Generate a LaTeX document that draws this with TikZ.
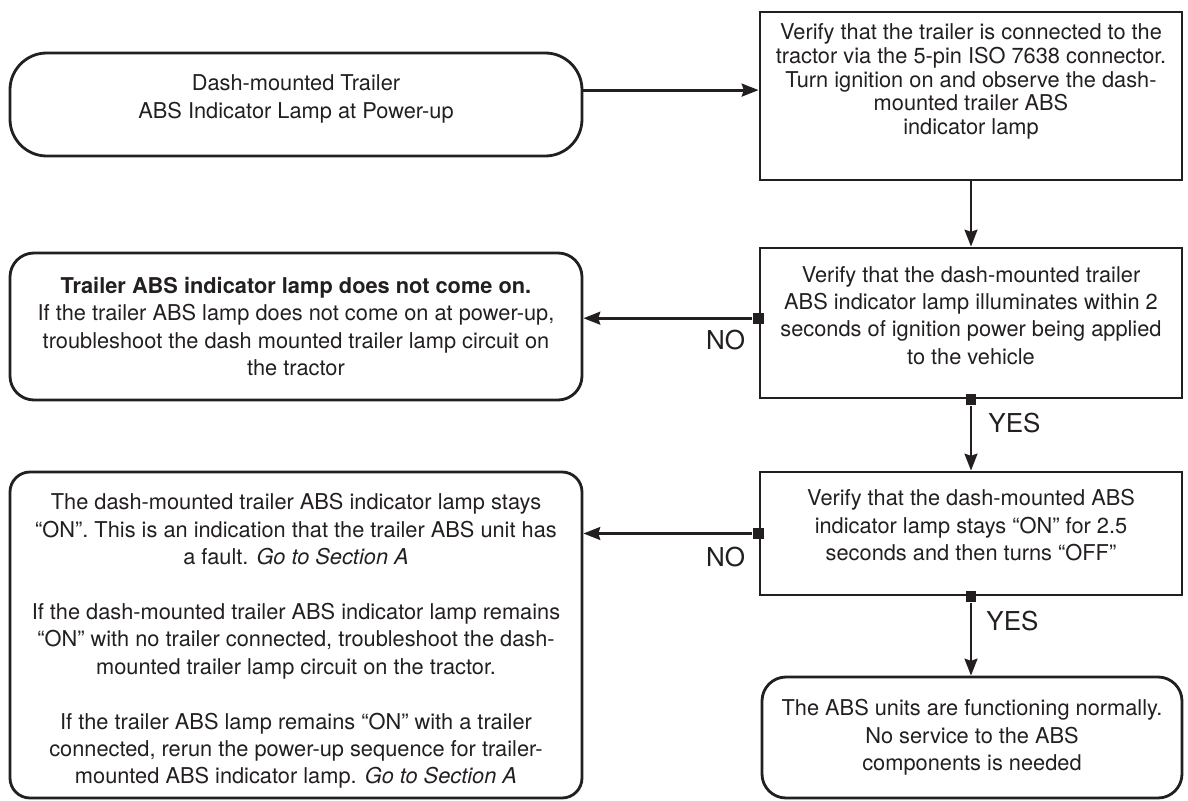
\documentclass[tikz,border=0pt]{standalone}
\usepackage{fontspec}
\setmainfont{TeX Gyre Heros}
\usetikzlibrary{arrows.meta}
\definecolor{ink}{HTML}{231F20}

\begin{document}
\begin{tikzpicture}[font=\fontsize{15.5}{19.5}\selectfont, >={Stealth[length=0.42cm, width=0.32cm, inset=0.05cm]},
          line width=2pt, color=ink,
          sbox/.style={draw, minimum width=10.55cm, inner sep=0pt},
          rbox/.style={draw, rounded corners=0.6cm, minimum width=14.3cm, inner sep=0pt},
          txt/.style={align=center, inner sep=0pt},
          junc/.style={fill=ink, minimum size=0.27cm, inner sep=0pt},
          yn/.style={font=\fontsize{18.5}{20}\selectfont, inner sep=0pt}]
        \useasboundingbox (0,0) rectangle (29.7,-20);
        % boxes, left column x = 0.25..14.55, right column x = 19.0..29.55
        \node[rbox, rounded corners=0.92cm, minimum height=2.575cm] (start) at (7.4,-2.6125) {};
        \node[sbox, minimum height=4.2cm] (conn) at (24.275,-2.4) {};
        \node[rbox, minimum height=3.675cm] (nolamp) at (7.4,-8.1625) {};
        \node[sbox, minimum height=3.75cm] (illum) at (24.275,-8.075) {};
        \node[sbox, minimum height=3.075cm] (stays) at (24.275,-13.3375) {};
        \node[rbox, rounded corners=0.5cm, minimum height=8.15cm] (stayson) at (7.4,-15.875) {};
        \node[rbox, minimum width=10.5cm, minimum height=3.025cm] (normal) at (24.3,-18.4375) {};
        % texts
        \node[txt] (startT) at ([yshift=0.14cm]start) {Dash-mounted Trailer\\ABS Indicator Lamp at Power-up};
        \node[txt, font=\fontsize{15.5}{16.8}\selectfont] (connT) at ([yshift=0.36cm]conn) {Verify that the trailer is connected to the\\tractor via the 5-pin ISO 7638 connector.\\Turn ignition on and observe the dash-\\mounted trailer ABS\\indicator lamp};
        \node[txt] (nolampT) at (nolamp) {\bfseries Trailer ABS indicator lamp does not come on.\\If the trailer ABS lamp does not come on at power-up,\\troubleshoot the dash mounted trailer lamp circuit on\\the tractor};
        \node[txt] (illumT) at ([yshift=0.19cm]illum) {Verify that the dash-mounted trailer\\ABS indicator lamp illuminates within 2\\seconds of ignition power being applied\\to the vehicle};
        \node[txt] (staysT) at ([yshift=0.21cm]stays) {Verify that the dash-mounted ABS\\indicator lamp stays ``ON'' for 2.5\\seconds and then turns ``OFF''};
        \node[txt] (staysonT) at ([yshift=-0.15cm]stayson) {The dash-mounted trailer ABS indicator lamp stays\\``ON''. This is an indication that the trailer ABS unit has\\a fault. \textit{Go to Section A}\\[19.5pt]If the dash-mounted trailer ABS indicator lamp remains\\``ON'' with no trailer connected, troubleshoot the dash-\\mounted trailer lamp circuit on the tractor.\\[19.5pt]If the trailer ABS lamp remains ``ON'' with a trailer\\connected, rerun the power-up sequence for trailer-\\mounted ABS indicator lamp. \textit{Go to Section A}};
        \node[txt] (normalT) at (normal) {The ABS units are functioning normally.\\No service to the ABS\\components is needed};
        % connectors
        \coordinate (startout) at ([yshift=0.36cm]start.east);
        \draw[->] (startout) -- (startout -| conn.west);
        \draw[->] (conn) -- (illum);
        \node[junc] (j1) at ([yshift=0.12cm]illum.west) {};
        \draw[->] (j1) -- (j1 -| nolamp.east);
        \node[yn, anchor=north east] (no1) at ([xshift=-0.3cm, yshift=-0.25cm]j1.center) {NO};
        \node[junc] (j2) at (illum.south) {};
        \draw[->] (j2) -- (stays);
        \node[yn, anchor=north west] (yes1) at ([xshift=0.4cm, yshift=-0.3cm]j2.center) {YES};
        \node[junc] (j3) at (stays.west) {};
        \draw[->] (j3) -- (j3 -| stayson.east);
        \node[yn, anchor=north east] (no2) at ([xshift=-0.3cm, yshift=-0.3cm]j3.center) {NO};
        \node[junc] (j4) at (stays.south) {};
        \draw[->] (j4) -- (j4 |- normal.north);
        \node[yn, anchor=north west] (yes2) at ([xshift=0.35cm, yshift=-0.33cm]j4.center) {YES};
      \end{tikzpicture}
\end{document}
